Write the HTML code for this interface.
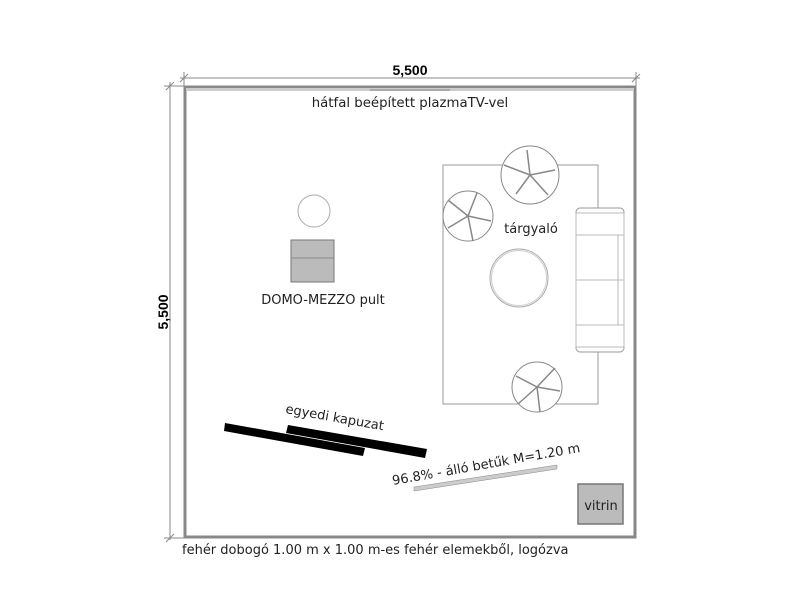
<!DOCTYPE html>
<html><head><style>
body{margin:0;background:#fff;}
svg{display:block;font-family:"DejaVu Sans","Liberation Sans",sans-serif;}
</style></head><body>
<svg width="800" height="610" viewBox="0 0 800 610">
<line x1="180" y1="78" x2="640" y2="78" stroke="#888" stroke-width="1"/>
<line x1="184" y1="72" x2="184" y2="86" stroke="#888"/>
<line x1="636" y1="72" x2="636" y2="86" stroke="#888"/>
<line x1="180" y1="82" x2="188" y2="74" stroke="#888"/>
<line x1="632" y1="82" x2="640" y2="74" stroke="#888"/>
<text x="410" y="75" font-size="14" font-weight="bold" text-anchor="middle" font-family="Liberation Sans">5,500</text>
<line x1="170" y1="82" x2="170" y2="540" stroke="#888"/>
<line x1="164" y1="86" x2="184" y2="86" stroke="#888"/>
<line x1="164" y1="538" x2="184" y2="538" stroke="#888"/>
<line x1="166" y1="90" x2="174" y2="82" stroke="#888"/>
<line x1="166" y1="542" x2="174" y2="534" stroke="#888"/>
<text transform="translate(168,312) rotate(-90)" font-size="14" font-weight="bold" text-anchor="middle" font-family="Liberation Sans">5,500</text>
<rect x="185" y="87" width="450" height="450" fill="#fff" stroke="#888" stroke-width="3"/>
<rect x="186" y="88" width="448" height="3" fill="#ccc"/>
<line x1="370" y1="90" x2="450" y2="90" stroke="#aaa" stroke-width="2"/>
<text x="410" y="107" font-size="13.3" text-anchor="middle" fill="#222">hátfal beépített plazmaTV-vel</text>
<circle cx="314" cy="211" r="16" fill="none" stroke="#aaa"/>
<rect x="291" y="240" width="43" height="42" fill="#bbb" stroke="#777"/>
<line x1="291" y1="258" x2="334" y2="258" stroke="#888"/>
<text x="323" y="304" font-size="13" text-anchor="middle" fill="#222">DOMO-MEZZO pult</text>
<rect x="443" y="165" width="155" height="239" fill="none" stroke="#999"/>
<g fill="#fff" stroke="#888">
<circle cx="530" cy="175" r="29"/>
<circle cx="468" cy="216" r="25"/>
<circle cx="537" cy="387" r="25"/>
</g>
<g stroke="#888" stroke-width="1.5">
<path d="M530 175 L504 165 M530 175 L548 195 M530 175 L516 194 M530 175 L555 170 M530 175 L527 150"/>
<path d="M468 216 L448 200 M468 216 L491 221 M468 216 L477 193 M468 216 L448 228 M468 216 L473 241"/>
<path d="M537 387 L516 376 M537 387 L555 368 M537 387 L540 412 M537 387 L518 404 M537 387 L560 391"/>
</g>
<circle cx="519" cy="278" r="29" fill="none" stroke="#aaa" stroke-width="1"/>
<circle cx="519" cy="278" r="27.5" fill="none" stroke="#ccc" stroke-width="1"/>
<text x="531" y="233" font-size="13" text-anchor="middle" fill="#222">tárgyaló</text>
<rect x="576" y="208" width="48" height="144" rx="4" fill="#fff" stroke="#999"/>
<rect x="576" y="213" width="48" height="134" fill="none" stroke="#bbb"/>
<line x1="576" y1="235" x2="624" y2="235" stroke="#bbb"/>
<line x1="576" y1="280" x2="624" y2="280" stroke="#bbb"/>
<line x1="576" y1="325" x2="624" y2="325" stroke="#bbb"/>
<line x1="618" y1="235" x2="618" y2="325" stroke="#bbb"/>
<polygon points="225,423 365,448 363,456 224,431" fill="#000"/>
<polygon points="288,425 427,449 425,458 286,433" fill="#000"/>
<text transform="translate(285,413) rotate(10)" font-size="13" fill="#222">egyedi kapuzat</text>
<text transform="translate(393,485) rotate(-10)" font-size="13" fill="#222">96.8% - álló betűk M=1.20 m</text>
<polygon points="414,487 557,465 557,469 414,491" fill="#ccc" stroke="#888" stroke-width="0.5"/>
<rect x="578" y="484" width="45" height="40" fill="#bbb" stroke="#777" stroke-width="1.5"/>
<text x="601" y="510" font-size="13" text-anchor="middle" fill="#222">vitrin</text>
<text x="182" y="554" font-size="13" fill="#222">fehér dobogó 1.00 m x 1.00 m-es fehér elemekből, logózva</text>
</svg>
</body></html>
